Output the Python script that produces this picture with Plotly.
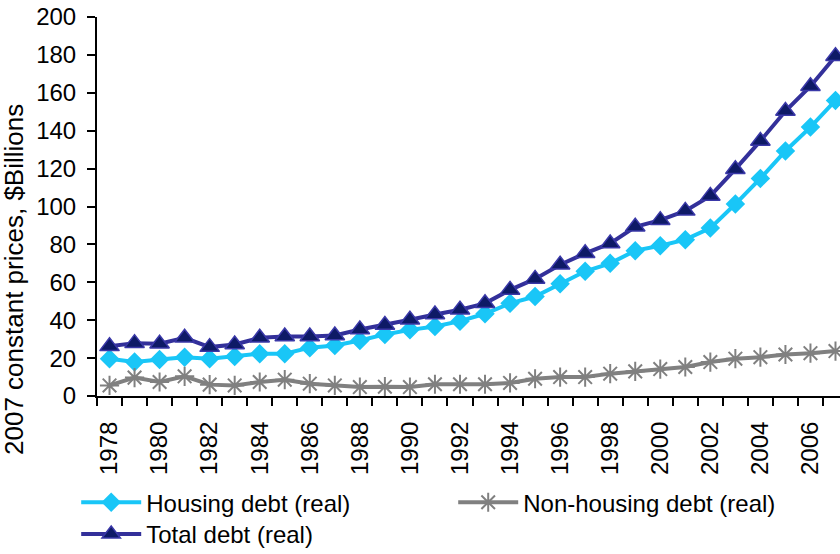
import plotly.graph_objects as go

years = list(range(1978, 2008))
housing = [19.7, 17.9, 19.3, 20.5, 19.7, 20.9, 22.3, 22.3, 25.5, 26.7,
           29.3, 32.5, 34.9, 36.7, 39.5, 43.4, 48.9, 52.5, 59.2, 65.8,
           70.0, 76.7, 79.3, 82.5, 88.6, 101.3, 114.8, 129.3, 141.9, 156.0]
non_housing = [5.6, 9.7, 7.4, 10.4, 6.0, 5.6, 7.4, 8.6, 6.5, 5.6,
               4.7, 4.9, 4.7, 6.2, 6.2, 6.2, 6.9, 9.1, 10.0, 10.0,
               11.8, 13.0, 14.2, 15.3, 17.9, 19.7, 20.5, 21.9, 22.6, 23.7]
total = [26.2, 27.9, 27.6, 30.7, 25.8, 27.2, 30.7, 31.4, 31.4, 31.9,
         35.1, 37.5, 40.2, 43.0, 45.5, 48.9, 56.0, 61.8, 69.3, 75.3,
         80.5, 89.3, 92.8, 97.7, 105.6, 119.7, 134.6, 150.4, 163.5, 179.3]
tick_years = list(range(1978, 2007, 2))
tick_labels = [str(y) for y in tick_years]
y_title = "2007 constant prices, $Billions"

FONT = "Liberation Sans, Arial, sans-serif"

fig = go.Figure()
fig.add_trace(go.Scatter(
    x=years, y=housing, name="Housing debt (real)", mode="lines+markers",
    line=dict(color="#19C6F7", width=4),
    marker=dict(symbol="diamond", size=15, color="#19C6F7"),
    cliponaxis=False, legend="legend"))
fig.add_trace(go.Scatter(
    x=years, y=non_housing, name="Non-housing debt (real)", mode="lines+markers",
    line=dict(color="#808080", width=4),
    marker=dict(symbol="asterisk-open", size=16, color="#808080",
                line=dict(color="#808080", width=2)),
    cliponaxis=False, legend="legend"))
fig.add_trace(go.Scatter(
    x=years, y=total, name="Total debt (real)", mode="lines+markers",
    line=dict(color="#33309A", width=4),
    marker=dict(symbol="triangle-up", size=17, color="#0E1A66",
                line=dict(color="#3A38A8", width=1.5)),
    cliponaxis=False, legend="legend2"))

legend_common = dict(
    orientation="h", xanchor="left", yanchor="top",
    font=dict(family=FONT, size=24, color="black"),
    itemwidth=60, bgcolor="rgba(0,0,0,0)", tracegroupgap=0,
)

fig.update_layout(
    width=840, height=554,
    margin=dict(l=97, r=0, t=17, b=158, autoexpand=False),
    paper_bgcolor="white", plot_bgcolor="white",
    font=dict(family=FONT, size=24, color="black"),
    showlegend=True,
    legend=dict(x=-0.028, y=-0.222, entrywidth=302, entrywidthmode="pixels",
                **legend_common),
    legend2=dict(x=-0.028, y=-0.306, **legend_common),
    xaxis=dict(
        range=[1977.5, 2007.18], automargin=False,
        tickmode="array", tickvals=tick_years, ticktext=tick_labels,
        tickangle=-90, ticks="", ticklabelstandoff=14,
        tickfont=dict(family=FONT, size=24),
        showline=True, linecolor="black", linewidth=2,
        showgrid=False, zeroline=False,
        minor=dict(ticks="outside", ticklen=8, tickwidth=2, tickcolor="black",
                   tick0=1977.5, dtick=1, showgrid=False),
    ),
    yaxis=dict(
        range=[0, 200], dtick=20, tick0=0, automargin=False,
        ticks="outside", ticklen=8, tickwidth=2, tickcolor="black",
        ticklabelstandoff=6,
        tickfont=dict(family=FONT, size=24),
        showline=True, linecolor="black", linewidth=2,
        showgrid=False, zeroline=False,
    ),
    annotations=[dict(
        text=y_title, textangle=-90, showarrow=False,
        xref="paper", yref="paper", x=(14 - 97) / 743, y=(396 - 280) / 379,
        xanchor="center", yanchor="middle",
        font=dict(family=FONT, size=26, color="black"),
    )],
)

fig.write_html("out.html", config={"displayModeBar": False},
               post_script="document.body.style.margin='0';")
